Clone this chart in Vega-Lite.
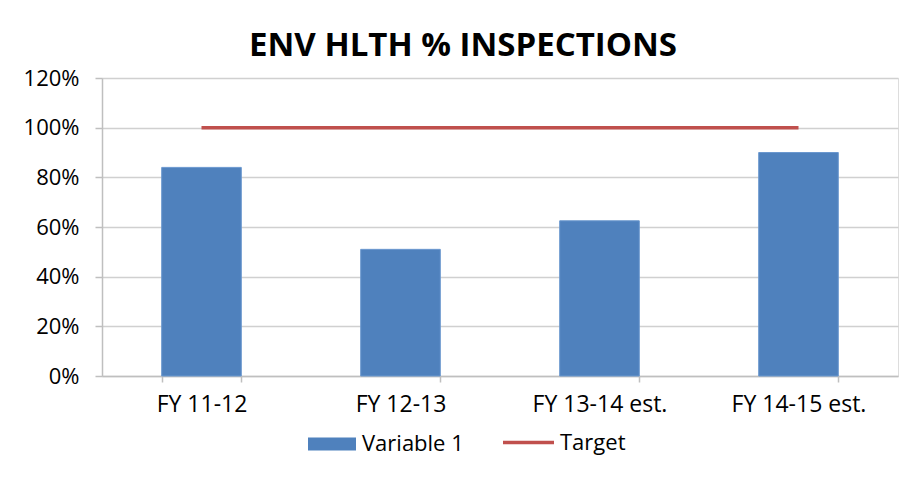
{
  "$schema": "https://vega.github.io/schema/vega-lite/v6.json",
  "width": 796,
  "height": 298,
  "autosize": "none",
  "padding": {"left": 102, "top": 78, "right": 21, "bottom": 101},
  "background": "white",
  "title": {
    "text": "ENV HLTH % INSPECTIONS",
    "font": "Open Sans",
    "fontSize": 33,
    "fontWeight": "bold",
    "color": "#000000",
    "anchor": "middle",
    "dx": -37,
    "offset": 4
  },
  "data": {
    "values": [
      {"fy": "FY 11-12", "value": 0.84, "target": 1.0},
      {"fy": "FY 12-13", "value": 0.51, "target": 1.0},
      {"fy": "FY 13-14 est.", "value": 0.625, "target": 1.0},
      {"fy": "FY 14-15 est.", "value": 0.9, "target": 1.0}
    ]
  },
  "encoding": {
    "x": {
      "field": "fy",
      "type": "nominal",
      "sort": null,
      "title": null,
      "scale": {"paddingInner": 0.6, "paddingOuter": 0.3},
      "axis": {
        "labelAngle": 0,
        "labelFont": "Open Sans",
        "labelFontSize": 23,
        "labelColor": "#000000",
        "labelPadding": 11,
        "tickBand": "extent",
        "tickSize": 6,
        "tickColor": "#bfbfbf",
        "tickWidth": 1.5,
        "domainColor": "#bfbfbf",
        "domainWidth": 1.5,
        "grid": false
      }
    }
  },
  "resolve": {"scale": {"color": "independent"}, "legend": {"color": "independent"}},
  "layer": [
    {
      "mark": {"type": "bar", "stroke": "#6b98cf", "strokeWidth": 1},
      "encoding": {
        "y": {
          "field": "value",
          "type": "quantitative",
          "title": null,
          "scale": {"domain": [0, 1.2], "nice": false},
          "axis": {
            "values": [0, 0.2, 0.4, 0.6, 0.8, 1.0, 1.2],
            "format": ".0%",
            "labelFont": "Open Sans",
            "labelFontSize": 22,
            "labelColor": "#000000",
            "labelPadding": 16,
            "tickSize": 7,
            "tickColor": "#bfbfbf",
            "tickWidth": 1.5,
            "domainColor": "#bfbfbf",
            "domainWidth": 1.5,
            "gridColor": "#d0d0d0",
            "gridWidth": 1.5
          }
        },
        "color": {
          "datum": "Variable 1",
          "type": "nominal",
          "scale": {"domain": ["Variable 1"], "range": ["#4f81bd"]},
          "legend": {
            "title": null,
            "orient": "none",
            "direction": "horizontal",
            "legendX": 206,
            "legendY": 342,
            "padding": 0,
            "labelFont": "Open Sans",
            "labelFontSize": 22,
            "labelColor": "#000000",
            "labelOffset": 6,
            "symbolType": "M-1,-0.27H1V0.27H-1Z",
            "symbolSize": 2304,
            "symbolOpacity": 1,
            "symbolStrokeWidth": 0
          }
        }
      }
    },
    {
      "mark": {"type": "line", "strokeWidth": 3.5},
      "encoding": {
        "y": {"field": "target", "type": "quantitative"},
        "color": {
          "datum": "Target",
          "type": "nominal",
          "scale": {"domain": ["Target"], "range": ["#c0504d"]},
          "legend": {
            "title": null,
            "orient": "none",
            "direction": "horizontal",
            "legendX": 399,
            "legendY": 337,
            "padding": 0,
            "labelFont": "Open Sans",
            "labelFontSize": 22,
            "labelColor": "#000000",
            "labelOffset": 4,
            "symbolType": "stroke",
            "symbolSize": 2601,
            "symbolOpacity": 1,
            "symbolStrokeWidth": 3.5
          }
        }
      }
    }
  ]
}
